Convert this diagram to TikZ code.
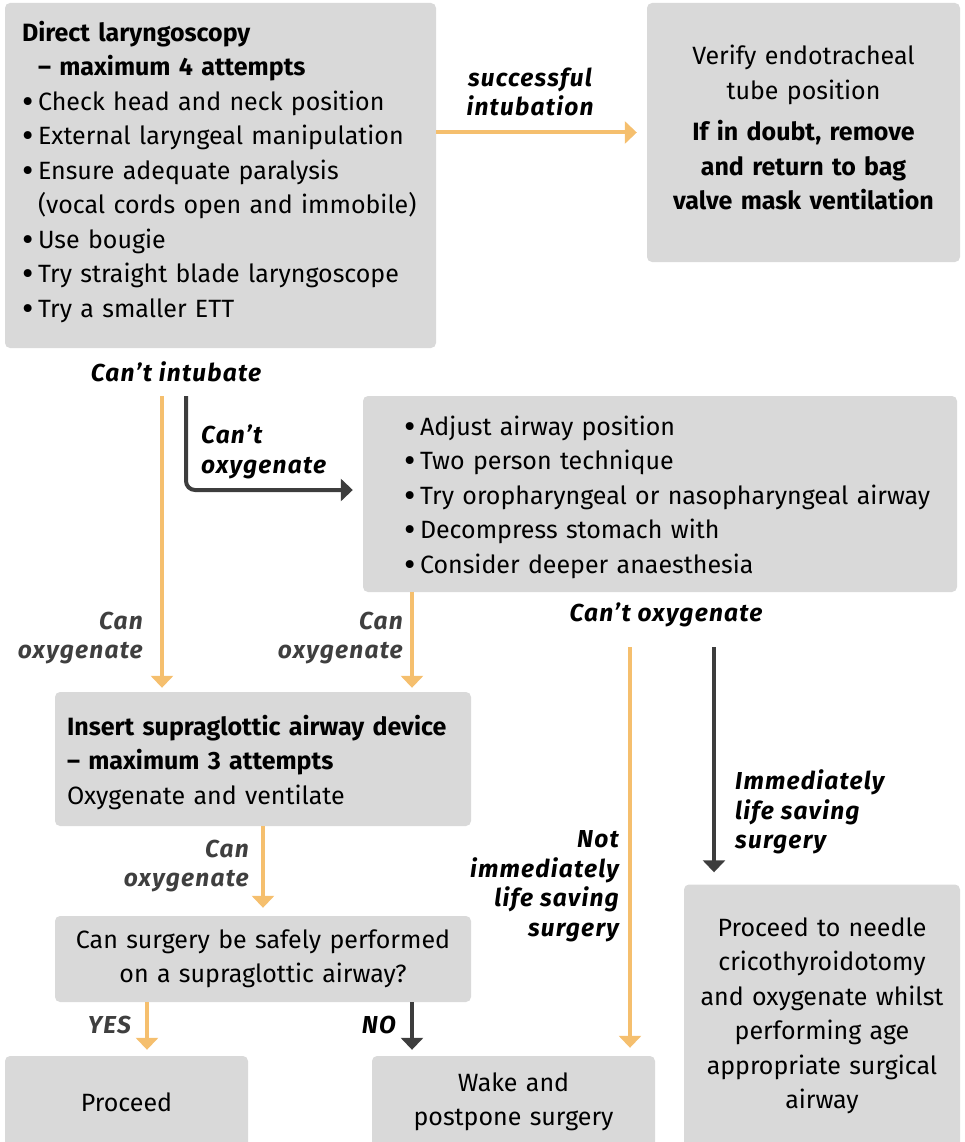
\documentclass[tikz,border=0pt]{standalone}
\usepackage{fontspec}
\usepackage{graphicx}
\setmainfont{Fira Sans}
\newfontfamily\lblfont[LetterSpace=5]{Fira Sans}
\usetikzlibrary{arrows.meta}
\definecolor{boxgray}{HTML}{D9D9D9}
\definecolor{orng}{HTML}{F5BF6E}
\definecolor{dark}{HTML}{3D3D3D}
\definecolor{lblgray}{HTML}{3F3F3F}
\newcommand{\bul}{\makebox[16pt][l]{\raisebox{-3pt}{\scalebox{1.4}{•}}}}
\begin{document}
\begin{tikzpicture}[x=1pt,y=-1pt,
 box/.style={fill=boxgray, rounded corners=5pt, inner sep=0pt, anchor=center},
 txt/.style={inner sep=0pt, anchor=center, font=\fontsize{25}{34.5}\selectfont},
 lbl/.style={font=\lblfont\fontsize{24.5}{29.5}\selectfont\bfseries\itshape, inner sep=0pt},
 oarr/.style={draw=orng, line width=4pt, -{Triangle[width=22pt,length=12pt]}},
 darr/.style={draw=dark, line width=4pt, -{Triangle[width=22pt,length=12pt]}},
]
\useasboundingbox (0,0) rectangle (965,1142);
\clip (0,0) rectangle (965,1142);

% boxes
\node[box, minimum width=431pt, minimum height=345pt] (dl) at (220.5,175.5) {};
\node[box, minimum width=313pt, minimum height=259pt] (vt) at (803.5,132.5) {};
\node[box, minimum width=594pt, minimum height=196pt] (adj) at (660,494) {};
\node[box, minimum width=416pt, minimum height=134pt] (sga) at (263,759) {};
\node[box, minimum width=416pt, minimum height=86pt] (sur) at (263,959) {};
\node[box, minimum width=243pt, minimum height=92pt] (proc) at (126.5,1102) {};
\node[box, minimum width=283pt, minimum height=92pt] (wake) at (513.5,1102) {};
\node[box, minimum width=276pt, minimum height=263pt] (needle) at (822,1016) {};

% box texts
\node[txt, text width=397pt, align=left] (dlt) at ([yshift=3.5pt]dl.center)
 {\mbox{\textbf{Direct laryngoscopy}}\\
  \mbox{\hspace*{16pt}\textbf{– maximum 4 attempts}}\\
  \mbox{\bul Check head and neck position}\\
  \mbox{\bul External laryngeal manipulation}\\
  \mbox{\bul Ensure adequate paralysis}\\
  \mbox{\makebox[16pt]{}(vocal cords open and immobile)}\\
  \mbox{\bul Use bougie}\\
  \mbox{\bul Try straight blade laryngoscope}\\
  \mbox{\bul Try a smaller ETT}};

\node[txt, text width=305pt, align=center] (vtt) at ([yshift=5pt]vt.center)
 {Verify endotracheal\\tube position\\[7pt]
  \textbf{If in doubt, remove}\\\textbf{and return to bag}\\\textbf{valve mask ventilation}};

\node[txt, text width=512pt, align=left] (adjt) at ([yshift=-3pt]adj.center)
 {\mbox{\bul Adjust airway position}\\
  \mbox{\bul Two person technique}\\
  \mbox{\bul Try oropharyngeal or nasopharyngeal airway}\\
  \mbox{\bul Decompress stomach with}\\
  \mbox{\bul Consider deeper anaesthesia}};

\node[txt, text width=392pt, align=left] (sgat) at ([yshift=-3.5pt]sga.center)
 {\mbox{\textbf{Insert supraglottic airway device}}\\
  \mbox{\textbf{– maximum 3 attempts}}\\
  \mbox{Oxygenate and ventilate}};

\node[txt, text width=404pt, align=center] (surt) at (sur.center)
 {Can surgery be safely performed\\on a supraglottic airway?};

\node[txt, text width=231pt, align=center] (proct) at (proc.center) {Proceed};

\node[txt, text width=271pt, align=center] (waket) at (wake.center)
 {Wake and\\postpone surgery};

\node[txt, text width=268pt, align=center] (needlet) at (needle.center)
 {Proceed to needle\\cricothyroidotomy\\and oxygenate whilst\\performing age\\appropriate surgical\\airway};

% labels
\node[lbl, align=center] (lsucc) at (530,92) {successful\\intubation};
\node[lbl] (lci) at (176,372) {Can’t intubate};
\node[lbl, align=left, anchor=west] (lco1) at (201,452) {Can’t\\oxygenate};
\node[lbl, align=right, anchor=east, text=lblgray] (lcan1) at (143,638) {Can\\oxygenate};
\node[lbl, align=right, anchor=east, text=lblgray] (lcan2) at (403,638) {Can\\oxygenate};
\node[lbl] (lco2) at (666,615) {Can’t oxygenate};
\node[lbl, align=left, anchor=west] (limm) at (735,812) {Immediately\\life saving\\surgery};
\node[lbl, align=right, anchor=east] (lnot) at (619,886) {Not\\immediately\\life saving\\surgery};
\node[lbl, align=right, anchor=east, text=lblgray] (lcan3) at (249,866) {Can\\oxygenate};
\node[lbl, anchor=east, text=lblgray] (lyes) at (131,1025) {YES};
\node[lbl, anchor=east] (lno) at (396,1025) {NO};

% coordinates for free ends
\coordinate (c1) at (162,396);
\coordinate (c2) at (186,396);
\coordinate (c3) at (412,600);
\coordinate (c4) at (630,647);
\coordinate (c5) at (714,647);
\coordinate (c6) at (263,900);
\coordinate (c7) at (147,1030);

% connectors
\draw[oarr, shorten >=10pt] (vt.west -| dl.east) -- (vt.west);
\draw[oarr, shorten >=4pt] (c1) -- (c1 |- sga.north);
\draw[darr, rounded corners=9pt, shorten >=10pt] (c2) |- ([yshift=4pt]adj.west);
\draw[oarr, shorten >=4pt] (adj.south -| c3) -- (sga.north -| c3);
\draw[oarr, shorten >=8pt] (sga.south -| c6) -- (sur.north -| c6);
\draw[oarr, shorten >=8pt] (c4) -- (c4 |- wake.north);
\draw[darr, shorten >=12pt] (c5) -- (c5 |- needle.north);
\draw[oarr, shorten >=6pt] (sur.south -| c7) -- (proc.north -| c7);
\draw[darr, shorten >=6pt] (sur.south -| c3) -- (wake.north -| c3);
\end{tikzpicture}
\end{document}
